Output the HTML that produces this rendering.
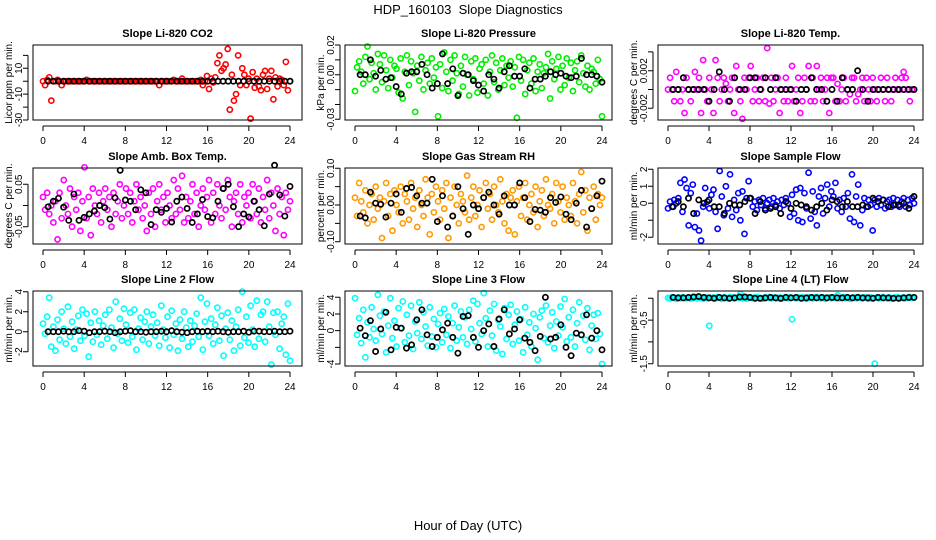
<!DOCTYPE html>
<html><head><meta charset="utf-8"><style>
html,body{margin:0;padding:0;background:#fff;}
svg{display:block;font-family:"Liberation Sans",sans-serif;}
</style></head><body>
<svg id="chart" width="936" height="540" viewBox="0 0 936 540" xmlns="http://www.w3.org/2000/svg">
<text x="468" y="14" text-anchor="middle" font-size="13">HDP_160103&#160; Slope Diagnostics</text>
<text x="468" y="530" text-anchor="middle" font-size="13">Hour of Day (UTC)</text>
</svg>
<script>
const xTicks = [0,4,8,12,16,20,24];
const xTickLabels = ['0','4','8','12','16','20','24'];
const blackHours = [0.5,1,1.5,2,2.5,3,3.5,4,4.5,5,5.5,6,6.5,7,7.5,8,8.5,9,9.5,10,10.5,11,11.5,12,12.5,13,13.5,14,14.5,15,15.5,16,16.5,17,17.5,18,18.5,19,19.5,20,20.5,21,21.5,22,22.5,23,23.5,24];

const co2Values = [0,-3,1,3,-15,0,0,1,0,-3,0,0,0,0,0,0,0,0,0,0, 0,1,0,0,0,0,0,0,0,0,0,0,0,0,0,0,0,0,0,0, 0,0,0,0,0,0,0,0,0,0,0,0,0,0,0,0,-3,0,0,0, 0,0,0,1,0,0,0,2,0,0,0,0,0,0,0,0,1,-3,0,4, -6,2,-1,3,14,20,8,10,13,25,-22,5,-15,-10,20,-3,10,5,-3,2, -29,7,-5,2,-4,-7,5,8,-6,2,8,-14,3,-4,2,1,-3,15,-7,0];
const co2Black = [0,0,0,0,0,0,0,0,0,0,0,0,0,0,0,0,0,0,0,0,0,0,0,0,0,0,0,0,0,0,0,0,0,0,0,0,0,0,0,0,0,0,0,0,0,0,0,0];

const presValues = [-.011,.005,.009,.002,-.006,.012,.019,-.003,.008,.001,-.010,.014,.007,-.005,.013,.003,-.009,.010,-.002,.006, .004,-.012,.011,-.016,.002,.013,-.007,.009,.001,-.025,.006,-.004,.012,-.010,.003,.008,-.006,.011,-.002,.005, -.028,.007,-.009,.015,.002,-.011,.010,-.004,.013,.001,-.013,.006,-.008,.012,.000,-.014,.009,-.003,.011,-.012, .004,.007,-.006,.010,-.014,.002,.013,-.005,.008,-.010,.003,.011,-.007,.006,-.002,.009,-.008,.005,-.029,.012, -.004,.010,-.013,.003,.008,-.006,.011,-.011,.002,.007,-.009,.001,.005,.014,-.016,.009,-.003,.004,.012,-.010, .006,-.007,.011,-.002,.008,-.011,.003,.009,-.005,.013,.001,-.008,.006,-.010,.004,.002,-.006,.010,-.003,-.028];
const presBlack = [.000,.000,.010,-.001,.003,-.003,-.002,-.008,-.013,.001,.002,.002,.007,.000,-.009,-.006,.014,-.006,.004,-.014,.001,.000,-.004,-.007,-.011,.000,-.003,-.009,.002,.006,-.001,-.001,.004,-.009,-.003,-.003,-.001,.002,.000,.001,-.001,-.002,-.001,.011,.000,.000,-.001,-.005];

const tempValues = [0,.00125,0,-.00125,.001875,0,-.00125,0,-.0025,.00125,0,-.00125,0,.001875,0,.00125,-.0025,.003125,0,-.00125, .00125,0,-.0025,.003125,.00125,-.00125,0,.00125,.000625,-.00125,0,.00125,-.0025,.0025,0,-.00125,-.003125,.00125,0,.00125, .0025,-.00125,0,.00125,-.00125,0,.00125,-.00125,.0044,-.0015,.00125,-.00125,0,.00125,-.0025,0,-.00125,.00125,-.00125,0, .0025,-.00125,0,.00125,-.0025,-.00125,.00125,0,.0025,-.00125,.00125,-.00125,.0025,0,.00125,-.00125,0,.00125,-.0025,.00125, .00125,-.00125,.0006,-.00125,0,.00125,-.00125,0,-.0005,.00125,.00125,-.00125,-.0005,0,.00125,-.00125,.00125,0,-.00125,.00125, 0,-.00125,0,.00125,0,-.00125,.00125,0,-.00125,0,.00125,0,0,.00125,.001875,.00125,0,-.00125,0,0];
const tempBlack = [0,0,.00125,0,0,0,0,-.00125,0,.001875,0,-.00125,.00125,0,0,.00125,.00125,0,.00125,0,.00125,0,0,0,-.00125,0,0,.00125,0,0,-.00125,0,-.00125,.00125,0,0,.002,0,-.00125,0,0,0,0,0,0,0,0,0];

const ambValues = [.02,-.01,.03,-.02,.00,-.04,.01,-.08,.03,-.03,.06,.00,-.02,.04,-.05,.02,-.01,.03,-.06,.01, .09,-.03,.02,-.07,.04,.00,-.02,.03,-.04,.01,.04,-.01,.02,-.05,.03,-.02,.01,.05,-.03,.00, .04,-.02,.03,-.04,.01,.05,-.01,.02,-.03,.00,-.06,.03,-.02,.04,-.05,.01,.05,-.01,.02,-.04, .03,.00,-.03,.06,-.02,.04,-.01,.07,-.04,.02,-.03,.01,.05,-.02,.03,-.05,.00,.04,-.01,.02, .06,-.04,.03,-.02,.05,.00,-.03,.04,-.01,.06,.02,-.05,.01,.03,-.02,.05,-.04,.02,.00,.03, -.03,.05,.01,-.02,.04,-.04,.02,-.01,.06,-.03,.03,.00,-.06,.04,-.02,.02,-.07,.03,-.01,.01];
const ambBlack = [-.003,.010,.017,-.004,-.035,.027,-.035,-.028,-.02,-.013,.00,-.005,-.032,.018,.083,.013,.01,-.01,.037,.03,-.045,-.01,-.016,-.007,-.039,.01,.02,-.007,-.04,-.02,.014,-.026,-.029,.01,.04,.05,-.003,-.05,-.02,-.027,.01,-.01,-.048,.027,.095,.025,-.025,.045];

const rhValues = [.02,-.03,.06,.01,-.02,.04,-.05,.00,.03,-.04,.05,-.01,.02,-.09,.01,.06,-.03,.03,-.07,.04, .00,-.02,.05,-.05,.03,.01,-.04,.06,-.01,.02,-.06,.04,.00,-.03,.07,.02,-.08,.03,-.02,.05, .01,-.04,.04,-.01,.06,-.09,.02,-.03,.05,.00,-.05,.03,.01,-.02,.08,-.04,.02,.05,-.03,.00, .04,-.06,.02,.06,-.01,.03,-.04,.05,.00,-.02,.07,.01,-.05,.03,-.07,.02,.04,-.08,.01,.05, -.03,.02,.06,-.04,.00,.03,-.02,.05,-.06,.01,.04,-.03,.07,.00,-.01,.03,-.05,.06,.01,-.02, .05,-.04,.02,.00,-.03,.06,.01,-.05,.03,.09,-.02,.04,-.07,.02,-.01,.05,-.04,.03,.00,.02];
const rhBlack = [-.03,-.035,.035,.005,.002,-.033,.005,.03,-.02,.045,.048,.025,.005,.005,.07,-.045,.025,-.06,-.03,.05,-.01,-.08,.00,-.01,.02,.035,.00,-.025,.025,.00,.00,.06,.02,-.045,-.012,-.014,-.02,.02,.007,.022,-.025,-.04,.005,.04,-.06,-.01,.025,.065];

const sampleValues = [-.3,.1,-.2,.2,.0,.3,1.2,-.5,1.4,.9,-1.3,.6,1.1,-1.4,-.6,-1.6,-2.2,-.2,.9,.1, -.3,.5,.8,-.5,-1.5,1.9,.4,-.7,1.0,-.3,1.7,-.8,.2,-.4,.6,-1.0,.7,-1.8,.3,1.3, .3,-.2,.1,-.4,.2,-.1,.3,-.3,.0,.2,-.2,.3,-.1,.1,-.3,.2,-.1,.3,.0,-.8, .5,-.6,.8,-1.0,.9,-1.1,.6,-.3,1.8,-.9,.7,-.5,-1.3,.4,.9,-.6,.3,1.1,-.2,.7, .4,1.2,-.3,.2,-.5,.3,-.2,.6,-.9,1.7,-1.1,.4,1.1,-1.3,-.4,.3,-.2,.2,-.1,-1.6, .2,-.2,.3,-.1,.2,-.3,.1,.2,-.2,.3,-.1,.2,-.2,.1,.3,-.2,.2,-.1,.3,.0];
const sampleBlack = [-.2,.1,-.2,.3,-.6,.2,.0,.2,-.2,-.2,-.6,.0,-.1,-.1,.1,.3,-.6,.1,-.4,-.3,-.2,-.6,.1,-.3,.0,-.1,-.2,-.4,-.2,.0,-.4,.2,.1,-.2,.1,-.2,-.2,-.1,-.2,.3,.1,.2,-.2,-.1,-.1,.0,-.3,.4];

const line2Values = [.8,-.2,1.5,3.4,-1.5,.5,-1.9,1.2,-.8,2.0,.3,-1.2,2.5,-.5,1.0,-1.7,.2,1.6,-.9,2.2, -.4,1.8,-2.5,.9,-1.0,2.0,-.3,1.1,-1.3,.6,1.7,-.7,2.2,.4,-1.6,3.0,-.2,1.3,-.9,2.3, .7,-1.1,1.9,-.5,2.2,-1.8,.3,1.4,-.8,1.0,2.0,-1.2,.5,1.7,-.4,.9,-1.4,2.6,.2,-.6, 1.5,-1.6,2.1,-.3,.8,-1.9,1.2,-.7,2.0,.4,-1.5,1.1,-1.0,.6,1.8,-.5,3.4,-1.8,1.0,2.8, -.4,1.3,-1.2,.7,2.4,-.9,1.6,-2.4,.3,1.9,-.8,1.1,-1.9,.5,2.2,-1.4,4.0,-.6,1.5,-1.1, 2.6,.2,-1.5,3.1,-.7,1.7,2.0,-1.0,3.0,.5,-3.3,1.9,-.3,2.0,-1.7,.8,1.5,-2.3,2.8,-2.9];
const line2Black = [0,0,0,.05,0,0,.1,.05,-.1,0,0,.05,0,-.1,0,.05,.1,0,0,-.05,0,0,.05,0,.1,0,-.05,-.1,0,.05,0,.05,0,.05,0,-.05,0,0,.05,-.05,.05,.05,0,0,.05,0,0,.05];

const line3Values = [3.9,-.5,1.5,-1.5,2.5,-3.2,1.0,-.8,2.8,.2,-1.2,4.3,1.8,-.4,2.3,-2.6,.6,3.9,-.9,1.2, -1.9,2.7,.3,3.5,-1.4,1.9,-.6,3.0,-2.2,1.1,-.3,3.4,-1.0,2.2,.5,-1.8,2.8,-.7,1.4,-2.0, .8,2.1,-1.4,2.6,-.5,1.7,-2.1,.9,3.0,-1.2,.4,2.3,-.8,1.6,-1.6,2.5,.2,3.6,-1.3,3.2, .9,-.4,4.5,1.5,-1.9,2.4,-.6,3.2,-2.4,1.3,.5,-2.8,2.7,-1.0,1.9,3.1,-1.6,.7,2.3,-1.2, 1.4,-2.6,2.8,-.5,1.0,-1.9,2.0,.3,-3.5,1.6,2.4,-.9,3.0,-1.4,.6,2.2,-2.1,1.1,-.6,2.9, .4,3.8,-1.3,1.6,-.8,2.5,-1.9,.9,3.4,-.5,1.8,-1.1,2.7,-2.3,.6,1.9,-1.0,2.1,-.4,-4.0];
const line3Black = [.3,-.6,1.2,-2.5,.2,2.2,-2.3,.4,.3,-2.1,-1.7,1.3,2.5,-.5,-1.9,-.8,.1,.9,-.8,-2.7,1.7,1.8,-.8,-2.0,.0,.8,-1.9,1.4,2.5,-.4,.2,1.3,-.9,-1.4,-2.4,-.7,4.0,-1.0,-.8,.7,-2.0,-3.0,-.3,-.5,1.9,-.9,.0,-2.3];

const line4Values = [.01,0,.02,.01,-.01,.02,0,.03,.01,0,.02,-.01,.01,.03,0,.02,.01,-.01,.02,0, -.63,.01,.02,0,.03,.01,-.01,.02,.01,0,.03,.02,0,.01,.02,.1,0,.01,-.01,.02, .01,0,.02,.03,0,.01,-.01,.02,.01,.03,0,.02,.01,0,.02,-.01,.01,.03,0,.02, -.48,.01,0,.02,.01,.03,0,-.01,.02,.01,0,.02,.03,.01,0,.02,-.01,.01,.02,0, .01,.02,.07,0,.01,.03,0,.02,-.01,.01,.02,0,.03,.01,0,.02,.01,-.01,.02,.01, -1.5,.02,0,.01,.03,.01,0,.02,-.01,.01,.02,.03,0,.01,.02,0,.01,.03,.01,.02];
const line4Black = [.02,.01,.01,.02,.03,.04,.02,.01,0,.02,.01,0,.01,.03,.03,.02,0,0,.01,.02,.01,0,.02,.01,.02,0,.01,.02,.01,.02,.01,.02,.01,.01,.02,.01,.02,.01,.01,0,.02,.01,.01,0,0,.01,.02,.02];

const panels = [
 {name:'co2',title:'Slope Li-820 CO2',ylab:'Licor ppm per min.',color:'#ff0000',values:co2Values,black:co2Black,col:0,row:0,v1:10,p1:68.3,v2:-30,p2:120,ticks:[20,10,0,-10,-20,-30],labels:['','10','','-10','','-30']},
 {name:'pressure',title:'Slope Li-820 Pressure',ylab:'kPa per min.',color:'#00ee00',values:presValues,black:presBlack,col:1,row:0,v1:.02,p1:45,v2:-.03,p2:119.3,ticks:[.02,.01,0,-.01,-.02,-.03],labels:['0.02','','0.00','','','-0.03']},
 {name:'temp',title:'Slope Li-820 Temp.',ylab:'degrees C per min.',color:'#ff00ff',values:tempValues,black:tempBlack,col:2,row:0,v1:.002,p1:70.7,v2:-.002,p2:108.3,ticks:[.004,.002,0,-.002],labels:['','0.002','','-0.002']},
 {name:'amb-box-temp',title:'Slope Amb. Box Temp.',ylab:'degrees C per min.',color:'#ff00ff',values:ambValues,black:ambBlack,col:0,row:1,v1:.05,p1:184.3,v2:-.05,p2:226.7,ticks:[.05,0,-.05],labels:['0.05','','-0.05']},
 {name:'gas-stream-rh',title:'Slope Gas Stream RH',ylab:'percent per min.',color:'#ff9900',values:rhValues,black:rhBlack,col:1,row:1,v1:.1,p1:168.3,v2:-.1,p2:241.7,ticks:[.1,.05,0,-.05,-.1],labels:['0.10','','0.00','','-0.10']},
 {name:'sample-flow',title:'Slope Sample Flow',ylab:'ml/min per min.',color:'#0000ff',values:sampleValues,black:sampleBlack,col:2,row:1,v1:2,p1:169.3,v2:-2,p2:237.3,ticks:[2,1,0,-1,-2],labels:['2','1','0','','-2']},
 {name:'line2-flow',title:'Slope Line 2 Flow',ylab:'ml/min per min.',color:'#00ffff',values:line2Values,black:line2Black,col:0,row:2,v1:4,p1:291.7,v2:-2,p2:351.7,ticks:[4,2,0,-2],labels:['4','2','0','-2']},
 {name:'line3-flow',title:'Slope Line 3 Flow',ylab:'ml/min per min.',color:'#00ffff',values:line3Values,black:line3Black,col:1,row:2,v1:4,p1:297.3,v2:-4,p2:364,ticks:[4,2,0,-2,-4],labels:['4','2','0','','-4']},
 {name:'line4-flow',title:'Slope Line 4 (LT) Flow',ylab:'ml/min per min.',color:'#00ffff',values:line4Values,black:line4Black,col:2,row:2,v1:0,p1:298.3,v2:-1.5,p2:363.7,ticks:[0,-.5,-1,-1.5],labels:['','-0.5','','-1.5']}
];

const NS='http://www.w3.org/2000/svg';
const svg=document.getElementById('chart');
const cols=[{bl:33,br:302,x0:43,x24:290},{bl:345,br:612,x0:355,x24:602},{bl:658,br:923,x0:668,x24:914}];
const rows=[{bt:45,bb:120},{bt:168,bb:244},{bt:291,bb:366}];
function mk(tag,attrs,parent){const e=document.createElementNS(NS,tag);for(const k in attrs)e.setAttribute(k,attrs[k]);(parent||svg).appendChild(e);return e;}

panels.forEach(p=>{
  const c=cols[p.col], r=rows[p.row];
  const xs=t=>c.x0+(c.x24-c.x0)*t/24;
  const ys=v=>p.p1+(p.p2-p.p1)*(v-p.v1)/(p.v2-p.v1);
  const g=mk('g',{});
  
  
  const t=mk('text',{x:(c.bl+c.br)/2,y:r.bt-8,'text-anchor':'middle','font-size':'11','font-weight':'bold'},g);
  t.textContent=p.title;
  
  
  const ylx=c.bl-21, yly=(r.bt+r.bb)/2;
  const yl=mk('text',{x:ylx,y:yly,'text-anchor':'middle','font-size':'10',transform:`rotate(-90 ${ylx} ${yly})`},g);
  yl.textContent=p.ylab;
  
  
  const n=p.values.length;
  p.values.forEach((v,i)=>{
    const pt=mk('circle',{cx:xs(i*24/(n-1)),cy:ys(v),r:2.6,fill:'none',stroke:p.color,'stroke-width':1.6},g);
    
    
  });
  p.black.forEach((v,i)=>{
    const pt=mk('circle',{cx:xs(blackHours[i]),cy:ys(v),r:2.6,fill:'none',stroke:'#000','stroke-width':1.7},g);
    
    
  });
  const box=mk('rect',{x:c.bl,y:r.bt,width:c.br-c.bl,height:r.bb-r.bt,fill:'none',stroke:'#000','stroke-width':1},g);
  
  
  const ax=mk('path',{d:`M${xs(0)} ${r.bb+6}H${xs(24)}`+xTicks.map(tk=>`M${xs(tk)} ${r.bb+6}v5`).join(''),stroke:'#000',fill:'none'},g);
  
  
  xTicks.forEach((tk,i)=>{
    const lt=mk('text',{x:xs(tk),y:r.bb+24,'text-anchor':'middle','font-size':'10'},g);
    lt.textContent=xTickLabels[i];
    
    
  });
  const ya=mk('path',{d:`M${c.bl-5} ${ys(p.ticks[0])}V${ys(p.ticks[p.ticks.length-1])}`+p.ticks.map(tk=>`M${c.bl-5} ${ys(tk)}h-5`).join(''),stroke:'#000',fill:'none'},g);
  
  
  p.ticks.forEach((tk,i)=>{
    if(!p.labels[i])return;
    const lx=c.bl-11, ly=ys(tk);
    const lt=mk('text',{x:lx,y:ly,'text-anchor':'middle','font-size':'10',transform:`rotate(-90 ${lx} ${ly})`},g);
    lt.textContent=p.labels[i];
    
    
  });
});
</script>
</body></html>
